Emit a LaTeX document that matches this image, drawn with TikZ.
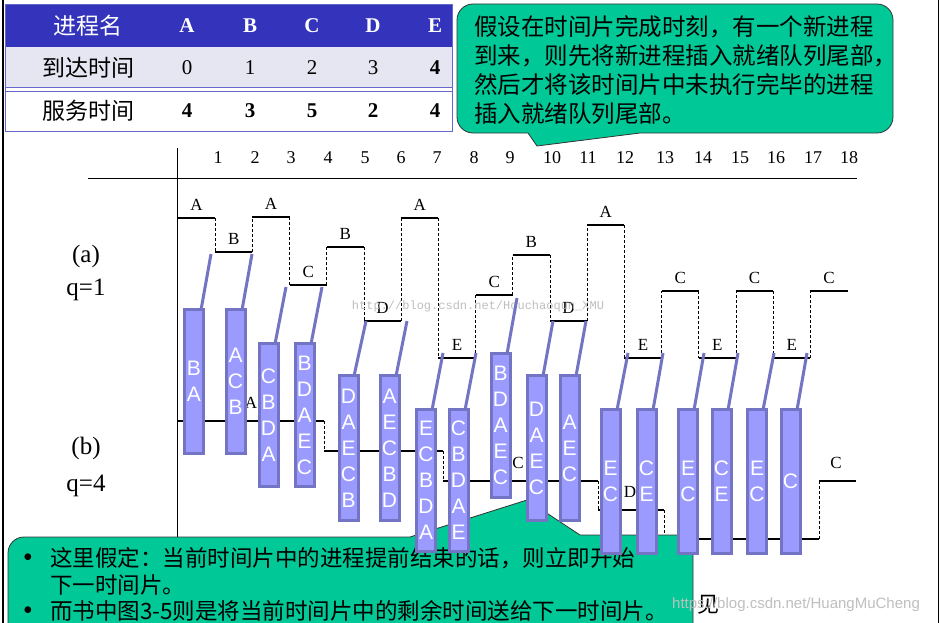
\documentclass[tikz,border=0pt]{standalone}
\usepackage{fontspec}
\setmainfont{Liberation Serif}
\setsansfont{Liberation Sans}
\setmonofont{Liberation Mono}
\newfontfamily\cjk{Noto Sans CJK SC}
\definecolor{callg}{HTML}{00C896}
\definecolor{barf}{HTML}{9A9AFF}
\definecolor{bard}{HTML}{7474C4}
\definecolor{hdr}{HTML}{3333BB}
\definecolor{rowl}{HTML}{E6E6F2}
\definecolor{tbd}{HTML}{6666CC}
\tikzset{
  lvl/.style={line width=1.1pt},
  trans/.style={dashed,line width=0.9pt,dash pattern=on 3pt off 2pt},
  lbl/.style={font=\fontsize{17}{17}\selectfont,inner sep=0pt},
  qbar/.style={draw=bard,fill=barf,line width=3pt,minimum width=19pt,inner sep=0pt,text=white,align=center,font=\sffamily\fontsize{21}{26}\selectfont},
  qlink/.style={draw=bard,line width=3pt},
  call/.style={fill=callg,draw=black!80,line width=0.8pt},
  tcell/.style={font=\fontsize{21}{21}\selectfont,inner sep=0pt},
}
\begin{document}
\begin{tikzpicture}[x=1pt,y=-1pt]
\useasboundingbox (0,0) rectangle (944,623);
\fill[white] (0,0) rectangle (944,623);
\clip (0,0) rectangle (944,623);
% frame lines
\draw[line width=2.5pt] (3,0) -- (3,623);
\draw[line width=1pt] (938,0) -- (938,623);
% table
\fill[hdr] (5,5) rectangle (452,47);
\fill[rowl] (5,47) rectangle (452,88);
\draw[tbd,line width=1pt] (5,5) rectangle (452,131);
\draw[tbd,line width=1pt] (5,88) -- (452,88);
\draw[tbd,line width=1pt] (5,92) -- (452,92);
\node[tcell,text=white,font=\cjk\fontsize{23}{23}\selectfont] (h0) at (88,26) {进程名};
\node[tcell,font=\cjk\fontsize{23}{23}\selectfont] (r10) at (88,68) {到达时间};
\node[tcell,font=\cjk\fontsize{23}{23}\selectfont] (r20) at (88,111) {服务时间};
\foreach \x/\n/\a/\s [count=\i] in {187/A/0/\textbf{4},250/B/1/\textbf{3},312/C/2/\textbf{5},373/D/3/\textbf{2},435/E/\textbf{4}/\textbf{4}}{
  \node[tcell,text=white] (h\i) at (\x,26) {\textbf{\n}};
  \node[tcell] (ra\i) at (\x,68) {\a};
  \node[tcell] (rs\i) at (\x,111) {\s};
}
% axes
\draw[line width=1pt] (177,148) -- (177,540);
\draw[line width=1pt] (88,178) -- (857,178);
\foreach \x [count=\i] in {218,255,291,328,365,401,437,474,510,552,588,625,665,703,740,776,813,849}{
  \node[lbl,font=\fontsize{18}{18}\selectfont] (tk\i) at (\x,158) {\i};
}
\node[font=\fontsize{25}{25}\selectfont] (la) at (86,256) {(a)};
\node[font=\fontsize{25}{25}\selectfont] (qa) at (86,290) {q=1};
\node[font=\fontsize{25}{25}\selectfont] (lb) at (86,448) {(b)};
\node[font=\fontsize{25}{25}\selectfont] (qb) at (86,486) {q=4};
% (a) schedule
\foreach \t/\y/\ny/\l in {0/218/252/A,1/252/217/B,2/217/285/A,3/285/247/C,4/247/321/B,5/321/218/D,6/218/358/A,7/358/295/E,8/295/255/C,9/255/321/B,10/321/225/D,11/225/358/A,12/358/291/E,13/291/358/C,14/358/291/E,15/291/358/C,16/358/291/E,17/291/291/C}{
  \draw[lvl] ({178+37.2*\t},\y) -- ({178+37.2*(\t+1)},\y);
  \draw[trans] ({178+37.2*(\t+1)},\y) -- ({178+37.2*(\t+1)},\ny);
  \node[lbl] (al\t) at ({178+37.2*(\t+0.5)},\y-13) {\l};
}
% (b) schedule
\draw[lvl] (178,421) -- (324,421);
\draw[trans] (324,421) -- (324,451);
\draw[lvl] (324,451) -- (443,451);
\draw[trans] (443,451) -- (443,481);
\draw[lvl] (443,481) -- (598,481);
\draw[trans] (598,481) -- (598,510);
\draw[lvl] (598,510) -- (664,510);
\draw[trans] (664,510) -- (664,539);
\draw[lvl] (664,539) -- (819,539);
\draw[trans] (819,539) -- (819,481);
\draw[lvl] (819,481) -- (856,481);
\node[lbl] (bA) at (251,403) {A};
\node[lbl] (bC) at (518,463) {C};
\node[lbl] (bD) at (630,492) {D};
\node[lbl] (bC2) at (836,463) {C};
% faint watermark
\node[font=\ttfamily\fontsize{12}{12}\selectfont,text=black!25] (wm1) at (478,306) {http://blog.csdn.net/Houchaoqun\_XMU};
% bottom callout
\draw[call,rounded corners=16] (8,650) -- (8,537) [sharp corners] -- (410,537) -- (527,500) -- (580,535) [rounded corners=16] -- (693,535) -- (693,650);
\node[anchor=west,font=\fontsize{16}{16}\selectfont] (bul1) at (20,558) {$\bullet$};
\node[anchor=west,font=\fontsize{16}{16}\selectfont] (bul2) at (20,611) {$\bullet$};
\node[anchor=west,inner sep=0pt,font=\cjk\fontsize{22.5}{22.5}\selectfont] (bt1) at (50,558) {这里假定：当前时间片中的进程提前结束的话，则立即开始};
\node[anchor=west,inner sep=0pt,font=\cjk\fontsize{22.5}{22.5}\selectfont] (bt2) at (50,585) {下一时间片。};
\node[anchor=west,inner sep=0pt,font=\cjk\fontsize{22.5}{22.5}\selectfont] (bt3) at (50,611) {而书中图3-5则是将当前时间片中的剩余时间送给下一时间片。};
\node[font=\cjk\fontsize{22}{22}\selectfont] (jian) at (708,605) {见};
\node[anchor=west,inner sep=0pt,font=\sffamily\fontsize{15}{15}\selectfont,text=black!25] (wm2) at (672,605) {https://blog.csdn.net/HuangMuCheng};
% queue bars
\foreach \xl/\xr/\yt/\yb/\txt/\ax/\ay/\bx/\by [count=\i] in {
 183/205/308/452/{B\\A}/201/308/211/254,
 225/246/308/452/{A\\C\\B}/242/308/252/254,
 258/279/342/485/{C\\B\\D\\A}/275/342/286/287,
 294/315/342/485/{B\\D\\A\\E\\C}/311/342/322/287,
 338/359/374/519/{D\\A\\E\\C\\B}/354/374/366/321,
 379/400/374/519/{A\\E\\C\\B\\D}/396/374/407/321,
 416/436/408/550/{E\\C\\B\\D\\A}/432/408/443/353,
 448/469/408/550/{C\\B\\D\\A\\E}/465/408/476/353,
 490/511/352/496/{B\\D\\A\\E\\C}/507/352/517/298,
 526/547/374/519/{D\\A\\E\\C}/543/374/553/321,
 559/580/374/519/{A\\E\\C}/576/374/586/321,
 600/621/408/552/{E\\C}/617/408/628/353,
 636/657/408/552/{C\\E}/653/408/663/353,
 677/699/408/552/{E\\C}/694/408/704/353,
 711/732/408/552/{C\\E}/728/408/738/353,
 746/768/408/552/{E\\C}/763/408/774/353,
 780/801/408/552/{C}/797/408/807/353}{
  \coordinate (lt\i) at (\bx,\by);
  \draw[qlink] (\ax,\ay+2) -- (lt\i);
  \node[qbar,minimum height={\yb-\yt},anchor=north] (q\i) at ({(\xl+\xr)/2},\yt) {\txt};
}
% top callout
\draw[call,rounded corners=16] (457,4) -- (893,4) -- (893,133) [sharp corners] -- (640,133) -- (537,146) -- (528,133) [rounded corners=16] -- (457,133) -- cycle;
\node[anchor=north west,align=left,inner sep=0pt,font=\cjk\fontsize{23.5}{29}\selectfont] (tc) at (474,15) {假设在时间片完成时刻，有一个新进程\\到来，则先将新进程插入就绪队列尾部，\\然后才将该时间片中未执行完毕的进程\\插入就绪队列尾部。};
\end{tikzpicture}
\end{document}
